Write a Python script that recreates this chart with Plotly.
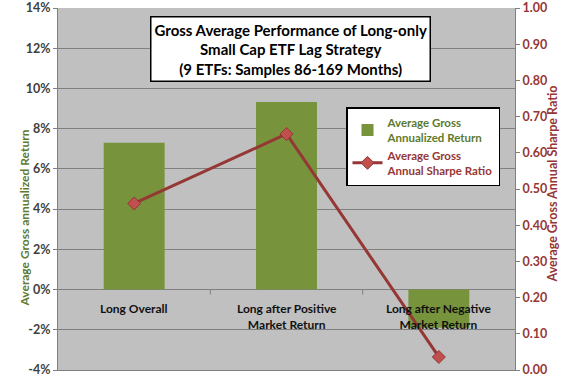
import plotly.graph_objects as go

categories = ["Long Overall", "Long after Positive<br>Market Return", "Long after Negative<br>Market Return"]
annual_return = [0.073, 0.0932, -0.019]
sharpe_ratio = [0.46, 0.652, 0.036]
left_tickvals = [-0.04, -0.02, 0, 0.02, 0.04, 0.06, 0.08, 0.10, 0.12, 0.14]
left_ticktext = ["-4%", "-2%", "0%", "2%", "4%", "6%", "8%", "10%", "12%", "14%"]

FONT = "Lato"
GREEN = "#77933C"
DKGREEN = "#5E7A2E"
DKRED = "#953735"
MRED = "#C0504D"

x_idx = list(range(len(categories)))

W, H = 576, 384
L, R, T, B = 58, 61, 8, 14
pw, ph = W - L - R, H - T - B

def px(x):
    return (x - L) / pw

def py(y):
    return (H - B - y) / ph

fig = go.Figure()
fig.add_trace(go.Bar(
    x=x_idx, y=annual_return, marker=dict(color=GREEN, line=dict(width=0)),
    name="<b><span style='color:#5E7A2E'>Average Gross</span><br><span style='color:#5E7A2E'>Annualized Return</span></b>",
    yaxis="y",
))
fig.add_trace(go.Scatter(
    x=x_idx, y=sharpe_ratio, mode="lines+markers",
    line=dict(color=DKRED, width=3),
    marker=dict(symbol="diamond", size=10, color=MRED, line=dict(color=DKRED, width=1)),
    name="<b><span style='color:#953735'>Average Gross</span><br><span style='color:#953735'>Annual Sharpe Ratio</span></b>",
    yaxis="y2",
))

annotations = []
for i, c in enumerate(categories):
    annotations.append(dict(x=i, y=0, xref="x", yref="y", text="<b>%s</b>" % c,
                            showarrow=False, yanchor="top", yshift=-9,
                            font=dict(family=FONT, size=12, color="#111111")))

annotations.append(dict(
    x=px(290.5), y=py(48.5), xref="paper", yref="paper", xanchor="center", yanchor="middle",
    text="<b>Gross Average Performance of Long-only<br>Small Cap ETF Lag Strategy<br>(9 ETFs: Samples 86-169 Months)</b>",
    showarrow=False, bgcolor="white", bordercolor="black", borderwidth=1.5, borderpad=3,
    font=dict(family=FONT, size=15, color="black"), align="center",
))
annotations.append(dict(
    x=px(14), y=py(218), xref="paper", yref="paper", text="<b>Average Gross annualized Return</b>",
    showarrow=False, textangle=-90, font=dict(family=FONT, size=12, color=DKGREEN),
))
annotations.append(dict(
    x=px(561), y=py(184), xref="paper", yref="paper", text="<b>Average Gross Annual Sharpe Ratio</b>",
    showarrow=False, textangle=-90, font=dict(family=FONT, size=12.5, color=DKRED),
))

shapes = []
for xm in [0.5, 1.5]:
    shapes.append(dict(type="line", xref="x", yref="y", x0=xm, x1=xm, y0=0, y1=-0.0025,
                       line=dict(color="#808080", width=1)))

fig.update_layout(
    width=W, height=H,
    margin=dict(l=L, r=R, t=T, b=B, pad=0, autoexpand=False),
    paper_bgcolor="white", plot_bgcolor="#C0C0C0",
    bargap=0.6,
    showlegend=True,
    legend=dict(x=px(346), y=py(107), xanchor="left", yanchor="top",
                bgcolor="white", bordercolor="black", borderwidth=1.5,
                font=dict(family=FONT, size=11.5), tracegroupgap=0,
                itemwidth=30),
    xaxis=dict(range=[-0.5, 2.5], showticklabels=False, showgrid=False, zeroline=False,
               showline=True, linecolor="#808080", mirror=False, ticks="", automargin=False),
    yaxis=dict(range=[-0.04, 0.14], tickvals=left_tickvals, ticktext=left_ticktext,
               showgrid=True, automargin=False,
               gridcolor="#808080", gridwidth=1, zeroline=True, zerolinecolor="#808080",
               zerolinewidth=1, showline=True, linecolor="#808080", ticks="outside",
               ticklen=4, tickcolor="#808080",
               tickfont=dict(family=FONT, size=12.5, color="#404040", weight="bold")),
    yaxis2=dict(range=[0, 1.0], dtick=0.1, tickformat=".2f", overlaying="y", side="right",
                showgrid=False, zeroline=False, showline=True, linecolor="#808080",
                ticks="outside", ticklen=4, tickcolor="#808080", automargin=False,
                tickfont=dict(family=FONT, size=12.5, color=DKRED, weight="bold")),
    annotations=annotations,
    shapes=shapes,
    font=dict(family=FONT),
)

fig.write_html("out.html", config={"displayModeBar": False},
               post_script="document.body.style.margin='0px';")
